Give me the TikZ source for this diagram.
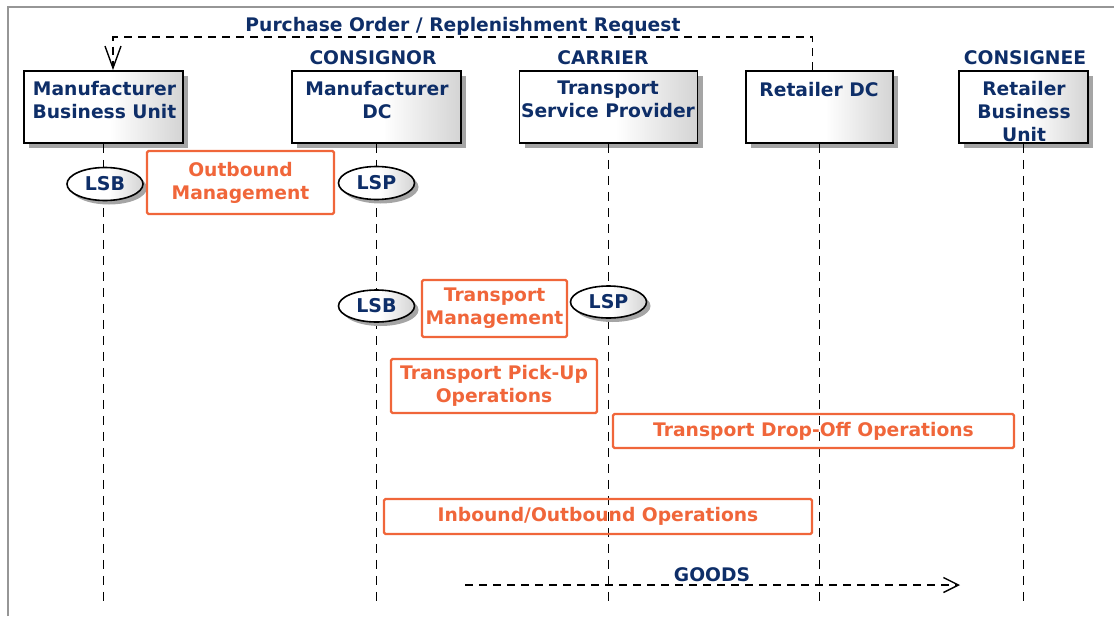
\documentclass[tikz,border=0pt]{standalone}
\usepackage{fontspec}
\setmainfont{DejaVu Sans}
\usetikzlibrary{arrows.meta,shadows,shapes.geometric}
\definecolor{navy}{RGB}{14,46,104}
\definecolor{orng}{RGB}{240,102,58}
\definecolor{shad}{RGB}{165,165,165}
\definecolor{frame}{RGB}{150,150,150}
\pgfdeclarehorizontalshading{boxshade}{100bp}{color(0bp)=(white); color(52bp)=(white); color(75bp)=(black!17); color(100bp)=(black!17)}
\begin{document}
\begin{tikzpicture}[x=1pt,y=-1pt,
  lbox/.style={rectangle, draw=black, line width=1.8pt, shading=boxshade, inner sep=0pt,
    drop shadow={shadow xshift=5pt, shadow yshift=-5pt, fill=shad, opacity=1}},
  ttl/.style={font=\fontsize{18.7}{23}\selectfont\bfseries, text=navy, align=center, inner sep=0pt},
  btxt/.style={ttl, anchor=north, execute at begin node={\rule{0pt}{15pt}}},
  obox/.style={rectangle, draw=orng, line width=2.4pt, rounded corners=1.5pt, inner sep=0pt,
    font=\fontsize{18.7}{23}\selectfont\bfseries, text=orng, align=center},
  lsx/.style={ellipse, draw=black, line width=1.6pt, shading=boxshade, inner sep=0pt,
    minimum width=76pt, minimum height=33pt,
    drop shadow={shadow xshift=4pt, shadow yshift=-4pt, fill=shad, opacity=1},
    font=\fontsize{19}{23}\selectfont\bfseries, text=navy},
  life/.style={line width=1.6pt, dash pattern=on 9pt off 7pt},
  msg/.style={line width=1.6pt, dash pattern=on 8pt off 6pt}
]
\useasboundingbox (0,0) rectangle (1114,616);
\draw[frame, line width=2pt] (8,616) -- (8,7) -- (1114,7);

% lifeline boxes
\node[lbox, minimum width=159pt, minimum height=72pt] (mbu) at (103.5,107) {};
\node[lbox, minimum width=169pt, minimum height=72pt] (mdc) at (376.5,107) {};
\node[lbox, minimum width=178pt, minimum height=72pt] (tsp) at (608.5,107) {};
\node[lbox, minimum width=147pt, minimum height=72pt] (rdc) at (819.5,107) {};
\node[lbox, minimum width=129pt, minimum height=72pt] (rbu) at (1023.5,107) {};

\node[btxt] (mbut) at (104.5,81) {Manufacturer\\Business Unit};
\node[btxt] (mdct) at (377,81) {Manufacturer\\DC};
\node[btxt] (tspt) at (608,81) {Transport\\Service Provider};
\node[btxt] (rdct) at (819,81) {Retailer DC};
\node[btxt] (rbut) at (1024,81) {Retailer\\Business\\Unit};

\node[btxt] (cnor) at (373,49) {CONSIGNOR};
\node[btxt] (carr) at (603,49) {CARRIER};
\node[btxt] (cnee) at (1025,49) {CONSIGNEE};
\node[btxt] (pot) at (463,16) {Purchase Order / Replenishment Request};

% lifelines
\coordinate (bot) at (0,601);
\draw[life] (mbu.south) -- (mbu.south |- bot);
\draw[life] (mdc.south) -- (mdc.south |- bot);
\draw[life] (tsp.south) -- (tsp.south |- bot);
\draw[life] (rdc.south) -- (rdc.south |- bot);
\draw[life] (rbu.south) -- (rbu.south |- bot);

% purchase order message
\coordinate (po1) at ([xshift=-7pt]rdc.north);
\coordinate (po2) at ([xshift=9.5pt]mbu.north);
\draw[msg, -{Straight Barb[length=22pt,width=16pt,line width=1.4pt]}]
  (po1) -- ++(0,-33) -| (po2);

% role ellipses
\node[lsx] (lsb1) at (105,184) {LSB};
\node[lsx] (lsp1) at (376.5,183) {LSP};
\node[lsx, minimum height=32pt] (lsb2) at (376.5,306) {LSB};
\node[lsx, minimum height=32pt] (lsp2) at (608.5,302) {LSP};

% activity boxes
\node[obox, minimum width=187pt, minimum height=63pt] (outm) at (240.5,182.5) {Outbound\\Management};
\node[obox, minimum width=145pt, minimum height=57pt] (trm) at (494.5,308.5) {Transport\\Management};
\node[obox, minimum width=206pt, minimum height=54pt] (tpu) at (494,386) {Transport Pick-Up\\Operations};
\node[obox, minimum width=401pt, minimum height=34pt] (tdo) at (813.5,431) {Transport Drop-Off Operations};
\node[obox, minimum width=428pt, minimum height=35pt] (ioo) at (598,516.5) {Inbound/Outbound Operations};

% goods flow
\coordinate (gs) at (465,585);
\coordinate (ge) at (960,585);
\draw[msg, -{Straight Barb[length=15pt,width=15pt,line width=1.4pt]}] (gs) -- (ge);
\node[ttl, anchor=base] (goods) at (712,581) {GOODS};
\end{tikzpicture}
\end{document}
